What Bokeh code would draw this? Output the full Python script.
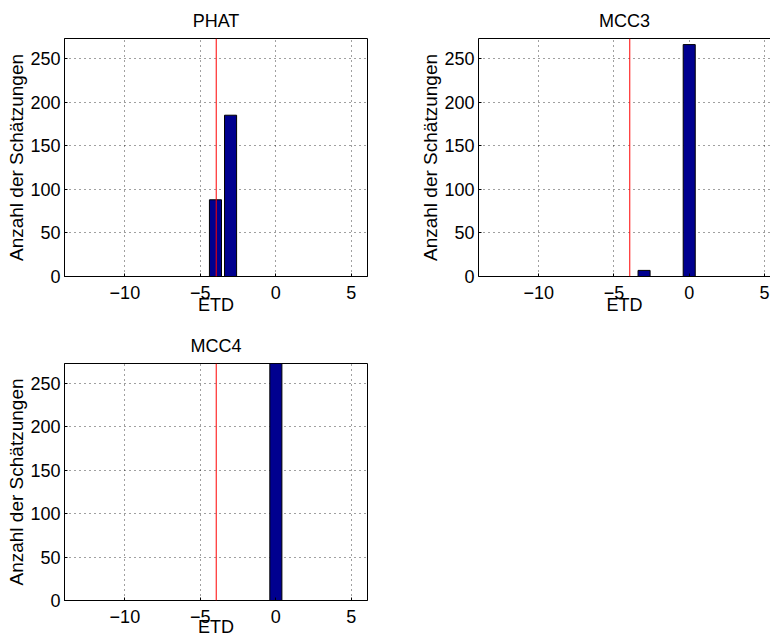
from bokeh.plotting import figure
from bokeh.layouts import column, row
from bokeh.models import Span, LinearAxis, FixedTicker, Range1d
from bokeh.embed import file_html
from bokeh.resources import INLINE

# ---- data ----
titles = ["PHAT", "MCC3", "MCC4"]
phat_bins = [-4, -3]
phat_counts = [88, 185]
mcc3_bins = [-3, 0]
mcc3_counts = [7, 266]
mcc4_bins = [0]
mcc4_counts = [273]
true_etd = -3.95
x_ticks = [-10, -5, 0, 5]
x_tick_labels = ["\u221210", "\u22125", "0", "5"]
y_ticks = [0, 50, 100, 150, 200, 250]
x_label = "ETD"
y_label = "Anzahl der Sch\u00e4tzungen"

FONT = "Liberation Sans"
BAR = "#00008F"


def make_panel(title, bins, counts, width, height, x_start, x_end,
               mbl, mbr, mbt, mbb, xl_standoff, box=True):
    p = figure(width=width, height=height,
               x_range=Range1d(x_start, x_end), y_range=Range1d(0, 273),
               output_backend="svg", toolbar_location=None, title=title,
               min_border_left=mbl, min_border_right=mbr,
               min_border_top=mbt, min_border_bottom=mbb)
    p.title.text_font = FONT
    p.title.text_font_size = "18px"
    p.title.text_font_style = "normal"
    p.title.align = "center"
    p.title.text_color = "black"
    p.title.standoff = 16

    p.vbar(x=bins, top=counts, bottom=0, width=0.8,
           fill_color=BAR, line_color="black", line_width=1)
    p.add_layout(Span(location=true_etd, dimension="height",
                      line_color="red", line_width=1))

    for ax in (p.xaxis[0], p.yaxis[0]):
        ax.axis_line_color = "black"
        ax.major_tick_in = 3
        ax.major_tick_out = 0
        ax.minor_tick_line_color = None
        ax.major_tick_line_color = "black"
        ax.major_label_text_font = FONT
        ax.major_label_text_font_size = "18px"
        ax.major_label_text_color = "black"
        ax.axis_label_text_font = FONT
        ax.axis_label_text_font_style = "normal"
        ax.axis_label_text_color = "black"
    p.xaxis.ticker = FixedTicker(ticks=x_ticks)
    p.xaxis.major_label_overrides = dict(zip(x_ticks, x_tick_labels))
    p.xaxis.axis_label = x_label
    p.xaxis.axis_label_text_font_size = "18px"
    p.xaxis.major_label_standoff = 9
    p.xaxis.axis_label_standoff = xl_standoff
    p.yaxis.ticker = FixedTicker(ticks=y_ticks)
    p.yaxis.axis_label = y_label
    p.yaxis.axis_label_text_font_size = "19px"
    p.yaxis.major_label_standoff = 4
    p.yaxis.axis_label_standoff = 0

    p.xgrid.ticker = FixedTicker(ticks=x_ticks)
    p.ygrid.ticker = FixedTicker(ticks=y_ticks)
    for g in (p.xgrid[0], p.ygrid[0]):
        g.grid_line_color = "black"
        g.grid_line_alpha = 0.75
        g.grid_line_dash = "1 4"
        g.grid_line_width = 1

    if box:
        p.outline_line_color = "black"
        p.outline_line_alpha = 1
        p.outline_line_width = 1
    else:
        p.outline_line_color = None
        top = LinearAxis(ticker=FixedTicker(ticks=[]), major_tick_in=0,
                         major_tick_out=0, major_label_text_font_size="0px",
                         axis_line_color="black", minor_tick_line_color=None)
        p.add_layout(top, "above")
    p.background_fill_color = "white"
    p.border_fill_color = "white"
    return p


p1 = make_panel(titles[0], phat_bins, phat_counts, 408, 318, -14, 6.07,
                64, 41, 38, 42, -7)
p2 = make_panel(titles[1], mcc3_bins, mcc3_counts, 362, 318, -14, 5.4,
                70, 0, 38, 42, -7, box=False)
p3 = make_panel(titles[2], mcc4_bins, mcc4_counts, 408, 321, -14, 6.07,
                64, 41, 45, 37, -9)

layout = column(row(p1, p2), p3)
open("out.html", "w").write(file_html(layout, INLINE))
